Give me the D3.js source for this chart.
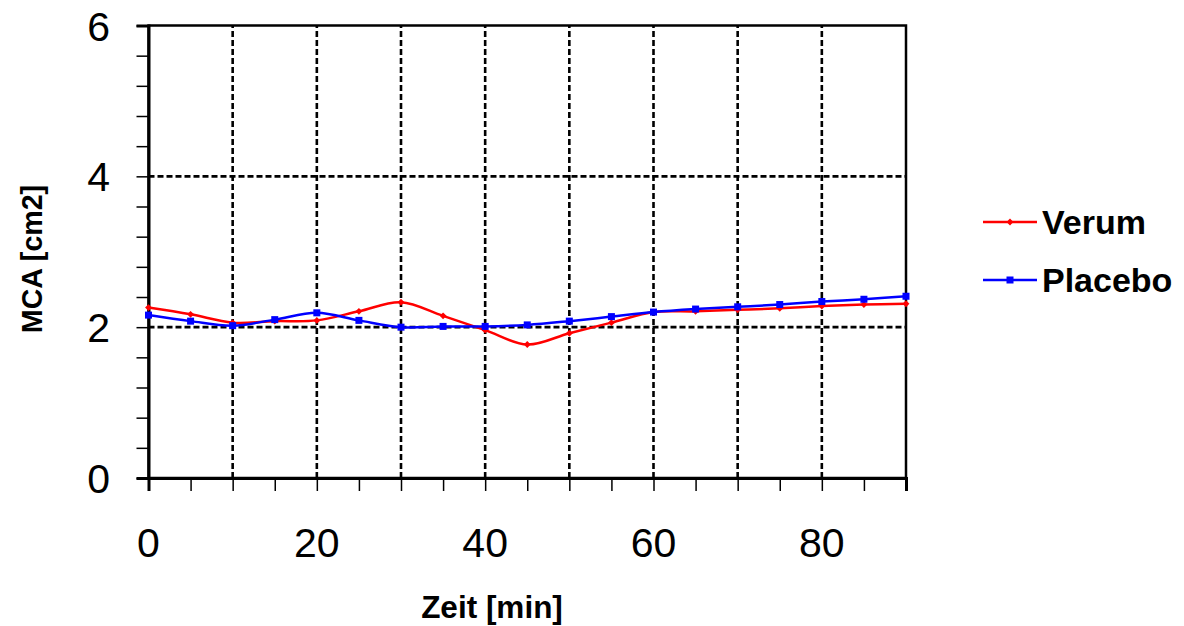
<!DOCTYPE html>
<html><head><meta charset="utf-8">
<script src="https://cdn.jsdelivr.net/npm/d3@7"></script>
<style>body{margin:0;background:#fff}svg{display:block}</style>
</head><body>
<svg id="c" width="1184" height="626"></svg>
<script>
const times = [0,5,10,15,20,25,30,35,40,45,50,55,60,65,70,75,80,85,90];
const verum = [2.26,2.17,2.06,2.08,2.09,2.21,2.33,2.15,1.96,1.77,1.92,2.06,2.20,2.21,2.23,2.25,2.28,2.30,2.31];
const placebo = [2.16,2.08,2.02,2.10,2.19,2.09,2.00,2.01,2.01,2.03,2.08,2.14,2.20,2.24,2.27,2.30,2.34,2.37,2.41];
const xTickLabels = [0,20,40,60,80];
const yTickLabels = [0,2,4,6];
const seriesNames = ["Verum","Placebo"];
const seriesColors = ["#ff0000","#0000ff"];

const svg = d3.select("#c");
const x = d3.scaleLinear().domain([0,90]).range([148.5,906]);
const y = d3.scaleLinear().domain([0,6]).range([478,25.5]);
const font = "'Liberation Sans', Arial, sans-serif";

// grid
const g = svg.append("g");
g.selectAll("line.vg").data(d3.range(10,90,10)).join("line")
  .attr("x1",d=>x(d)).attr("x2",d=>x(d)).attr("y1",y(0)).attr("y2",y(6))
  .attr("stroke","#000").attr("stroke-width",2.6).attr("stroke-dasharray","6,3");
g.selectAll("line.hg").data([2,4]).join("line")
  .attr("x1",x(0)).attr("x2",x(90)).attr("y1",d=>y(d)).attr("y2",d=>y(d))
  .attr("stroke","#000").attr("stroke-width",2.6).attr("stroke-dasharray","6,3");

// border
svg.append("rect").attr("x",x(0)).attr("y",y(6)).attr("width",x(90)-x(0)).attr("height",y(0)-y(6))
  .attr("fill","none").attr("stroke","#000").attr("stroke-width",2.5);

// axes
const xAxis = d3.axisBottom(x).tickValues(d3.range(0,91,5)).tickSize(13).tickFormat("");
const xa = svg.append("g").attr("transform",`translate(0,${y(0)})`).call(xAxis);
xa.select(".domain").attr("stroke","#000").attr("stroke-width",3);
xa.selectAll(".tick line").attr("stroke","#000").attr("stroke-width",1.5);
const yAxis = d3.axisLeft(y).tickValues(d3.range(0,16).map(i=>+(i*0.4).toFixed(1))).tickSize(12).tickFormat("");
const ya = svg.append("g").attr("transform",`translate(${x(0)},0)`).call(yAxis);
ya.select(".domain").attr("stroke","#000").attr("stroke-width",3);
ya.selectAll(".tick line").attr("stroke","#000").attr("stroke-width",1.5);

// tick labels
svg.selectAll("text.xl").data(xTickLabels).join("text")
  .attr("x",d=>x(d)).attr("y",557).attr("text-anchor","middle")
  .attr("font-family",font).attr("font-size",41).text(d=>d);
svg.selectAll("text.yl").data(yTickLabels).join("text")
  .attr("x",110).attr("y",d=>y(d)+15).attr("text-anchor","end")
  .attr("font-family",font).attr("font-size",41).text(d=>d);

// titles
svg.append("text").attr("x",492).attr("y",618).attr("text-anchor","middle")
  .attr("font-family",font).attr("font-size",31.5).attr("font-weight","bold").text("Zeit [min]");
svg.append("text").attr("transform","translate(41.5,259) rotate(-90)").attr("text-anchor","middle")
  .attr("font-family",font).attr("font-size",28.6).attr("font-weight","bold").text("MCA [cm2]");

// lines
const line = d3.line().x(d=>x(d[0])).y(d=>y(d[1])).curve(d3.curveCatmullRom.alpha(0));
const data = [verum, placebo];
data.forEach((vals,i)=>{
  const pts = times.map((t,j)=>[t,vals[j]]);
  svg.append("path").attr("d",line(pts)).attr("fill","none")
    .attr("stroke",seriesColors[i]).attr("stroke-width",2.5);
  if(i===0){
    svg.selectAll(null).data(pts).join("path")
      .attr("d",d3.symbol(d3.symbolDiamond2,30)())
      .attr("transform",d=>`translate(${x(d[0])},${y(d[1])})`).attr("fill",seriesColors[i]);
  } else {
    svg.selectAll(null).data(pts).join("rect")
      .attr("x",d=>x(d[0])-3.5).attr("y",d=>y(d[1])-3.5).attr("width",7).attr("height",7)
      .attr("fill",seriesColors[i]);
  }
});

// legend
const legY = [222,280];
seriesNames.forEach((n,i)=>{
  svg.append("line").attr("x1",983).attr("x2",1037).attr("y1",legY[i]).attr("y2",legY[i])
    .attr("stroke",seriesColors[i]).attr("stroke-width",2.5);
  if(i===0){
    svg.append("path").attr("d",d3.symbol(d3.symbolDiamond2,30)())
      .attr("transform",`translate(1010,${legY[i]})`).attr("fill",seriesColors[i]);
  } else {
    svg.append("rect").attr("x",1006.5).attr("y",legY[i]-3.5).attr("width",7).attr("height",7).attr("fill",seriesColors[i]);
  }
  svg.append("text").attr("x",1042).attr("y",legY[i]+11.5).attr("font-family",font)
    .attr("font-size",34).attr("font-weight","bold").text(n);
});
</script>
</body></html>
